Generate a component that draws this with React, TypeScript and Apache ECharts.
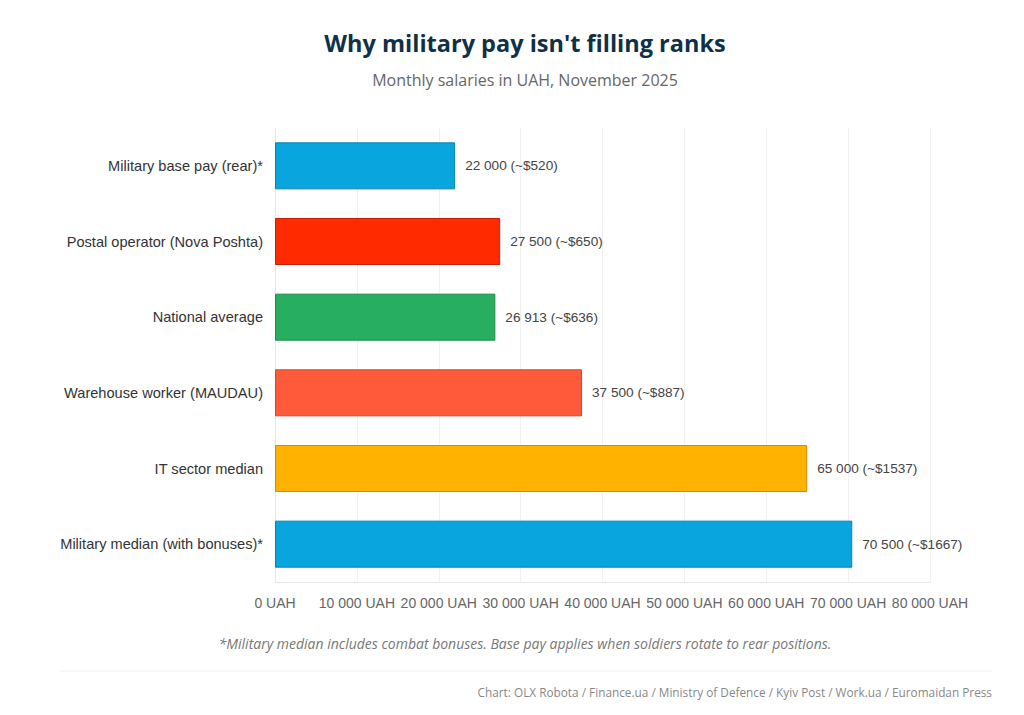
import React, { useEffect, useRef } from "react";
import * as echarts from "echarts";

const categories = [
  "Military base pay (rear)*",
  "Postal operator (Nova Poshta)",
  "National average",
  "Warehouse worker (MAUDAU)",
  "IT sector median",
  "Military median (with bonuses)*",
];
const valuesUAH = [22000, 27500, 26913, 37500, 65000, 70500];
const valuesUSD = [520, 650, 636, 887, 1537, 1667];
const barColors = ["#09a5df", "#ff2a00", "#27ae60", "#ff5a3a", "#ffb300", "#09a5df"];
const borderColors = ["#0b7fae", "#c82000", "#1d8a4b", "#cc4630", "#cc8f00", "#0b7fae"];

const fmt = (n: number) => String(n).replace(/\B(?=(\d{3})+(?!\d))/g, " ");

export default function App() {
  const ref = useRef<HTMLDivElement>(null);
  useEffect(() => {
    const chart = echarts.init(ref.current!, null, { renderer: "svg" });
    chart.setOption({
      animation: false,
      backgroundColor: "#ffffff",
      grid: { left: 275, right: 94, top: 128, bottom: 133, containLabel: false },
      xAxis: {
        type: "value",
        min: 0,
        max: 80000,
        interval: 10000,
        axisLine: { show: true, lineStyle: { color: "#e6e6e6" } },
        axisTick: { show: false },
        splitLine: { show: true, lineStyle: { color: "#f0f0f0" } },
        axisLabel: {
          formatter: (v: number) => fmt(v) + " UAH",
          fontFamily: "Liberation Sans",
          fontSize: 14,
          color: "#666666",
          margin: 14,
        },
      },
      yAxis: {
        type: "category",
        data: categories,
        inverse: true,
        axisLine: { show: true, lineStyle: { color: "#e6e6e6" } },
        axisTick: { show: false },
        axisLabel: { fontFamily: "Liberation Sans", fontSize: 14.6, color: "#333333", margin: 12 },
      },
      series: [
        {
          type: "bar",
          barWidth: 47,
          data: valuesUAH.map((v, i) => ({
            value: v,
            itemStyle: { color: barColors[i], borderColor: borderColors[i], borderWidth: 1 },
          })),
          label: {
            show: true,
            position: "right",
            distance: 10,
            fontFamily: "Liberation Sans",
            fontSize: 13.6,
            color: "#444444",
            formatter: (p: any) => `${fmt(valuesUAH[p.dataIndex])} (~$${valuesUSD[p.dataIndex]})`,
          },
        },
      ],
      graphic: [
        {
          type: "text",
          x: 525,
          y: 43,
          style: {
            text: "Why military pay isn't filling ranks",
            fontFamily: "Open Sans",
            fontWeight: "bold",
            fontSize: 23.5,
            fill: "#0f3047",
            textAlign: "center",
            textVerticalAlign: "middle",
          },
        },
        {
          type: "text",
          x: 525,
          y: 80,
          style: {
            text: "Monthly salaries in UAH, November 2025",
            fontFamily: "Open Sans",
            fontSize: 16,
            fill: "#666666",
            textAlign: "center",
            textVerticalAlign: "middle",
          },
        },
        {
          type: "text",
          x: 525,
          y: 643,
          style: {
            text: "*Military median includes combat bonuses. Base pay applies when soldiers rotate to rear positions.",
            fontFamily: "Open Sans",
            fontStyle: "italic",
            fontSize: 14,
            fill: "#777777",
            textAlign: "center",
            textVerticalAlign: "middle",
          },
        },
        {
          type: "line",
          shape: { x1: 60, y1: 671, x2: 992, y2: 671 },
          style: { stroke: "#eeeeee", lineWidth: 1 },
        },
        {
          type: "text",
          x: 992,
          y: 692,
          style: {
            text: "Chart: OLX Robota / Finance.ua / Ministry of Defence / Kyiv Post / Work.ua / Euromaidan Press",
            fontFamily: "Open Sans",
            fontSize: 11.8,
            fill: "#888888",
            textAlign: "right",
            textVerticalAlign: "middle",
          },
        },
      ],
    });
    return () => chart.dispose();
  }, []);
  return <div ref={ref} style={{ width: 1024, height: 715, position: "absolute", left: 0, top: 0 }} />;
}
